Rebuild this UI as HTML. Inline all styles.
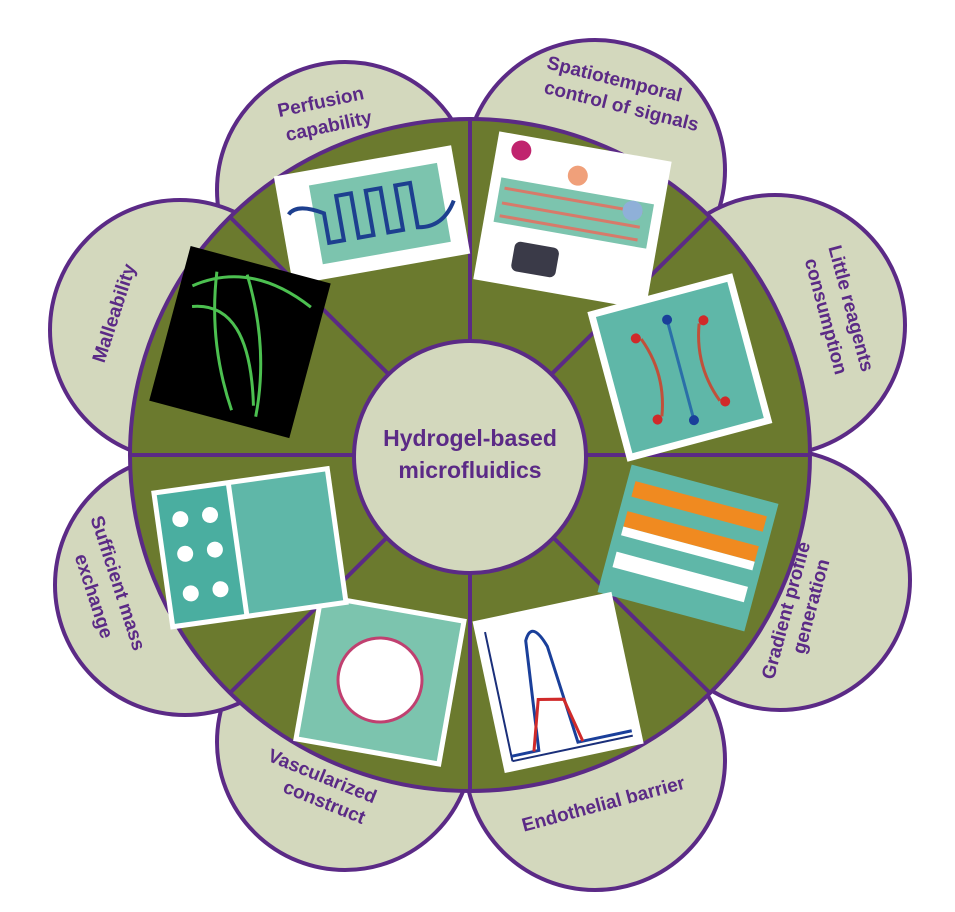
<!DOCTYPE html>
<html><head><meta charset="utf-8"><style>
html,body{margin:0;padding:0;background:#fff;}
svg{display:block;}
text{font-family:"Liberation Sans",sans-serif;font-weight:bold;fill:#5b2a86;font-size:19px;text-anchor:middle;}
</style></head><body>
<svg width="955" height="912" viewBox="0 0 955 912" xmlns="http://www.w3.org/2000/svg">
<g fill="#d3d8bd" stroke="#5b2a86" stroke-width="4">
<circle cx="345" cy="190" r="128"/>
<circle cx="595" cy="170" r="130"/>
<circle cx="775" cy="325" r="130"/>
<circle cx="780" cy="580" r="130"/>
<circle cx="595" cy="760" r="130"/>
<circle cx="345" cy="742" r="128"/>
<circle cx="185" cy="585" r="130"/>
<circle cx="180" cy="330" r="130"/>
</g>
<ellipse cx="470" cy="455" rx="340" ry="336" fill="#6b7a2e" stroke="#5b2a86" stroke-width="4"/>
<g stroke="#5b2a86" stroke-width="4">
<line x1="470" y1="119" x2="470" y2="791"/>
<line x1="130" y1="455" x2="810" y2="455"/>
<line x1="230" y1="217" x2="710" y2="693"/>
<line x1="710" y1="217" x2="230" y2="693"/>
</g>
<g transform="rotate(-10 372 215)">
<rect x="282" y="160" width="180" height="110" fill="#fff"/>
<rect x="315" y="175" width="130" height="80" fill="#7cc4ae"/>
<path d="M290 200 Q300 190 325 205 L325 235 L340 235 L340 190 L355 190 L355 235 L370 235 L370 190 L385 190 L385 235 L400 235 L400 190 L415 190 L415 235 Q440 240 455 215" fill="none" stroke="#1d3f8f" stroke-width="4"/>
</g>
<g transform="rotate(10 570 220)">
<rect x="485" y="145" width="175" height="150" fill="#fff"/>
<rect x="495" y="190" width="155" height="45" fill="#7cc4ae"/>
<path d="M500 200 L640 200 M500 215 L640 215 M500 228 L640 228" stroke="#d77a6a" stroke-width="3"/>
<circle cx="510" cy="160" r="10" fill="#c0246e"/><circle cx="570" cy="175" r="10" fill="#f0a07a"/><circle cx="630" cy="200" r="10" fill="#8fb0d8"/>
<rect x="520" y="250" width="45" height="30" rx="6" fill="#3a3a48"/>
</g>
<g transform="rotate(-15 680 368)">
<rect x="605" y="290" width="150" height="155" fill="#fff"/>
<rect x="612" y="297" width="136" height="141" fill="#5fb7a8"/>
<path d="M650 330 Q665 370 650 410 M710 330 Q695 370 710 410" stroke="#c0503a" stroke-width="3" fill="none"/>
<line x1="680" y1="320" x2="680" y2="420" stroke="#2a6fa8" stroke-width="3"/>
<circle cx="645" cy="328" r="5" fill="#d02a2a"/><circle cx="715" cy="328" r="5" fill="#d02a2a"/><circle cx="645" cy="412" r="5" fill="#d02a2a"/><circle cx="715" cy="412" r="5" fill="#d02a2a"/>
<circle cx="680" cy="318" r="5" fill="#1a3f9a"/><circle cx="680" cy="422" r="5" fill="#1a3f9a"/>
</g>
<g transform="rotate(15 688 548)">
<rect x="612" y="482" width="152" height="132" fill="#5fb7a8"/>
<rect x="620" y="497" width="136" height="16" fill="#f08a20"/>
<rect x="620" y="528" width="136" height="16" fill="#f08a20"/>
<rect x="620" y="544" width="136" height="9" fill="#fff"/>
<rect x="620" y="570" width="136" height="16" fill="#fff"/>
</g>
<g transform="rotate(-12 558 682)">
<rect x="487" y="605" width="142" height="155" fill="#fff"/>
<path d="M497 750 L620 750 M497 750 L497 618" stroke="#1a2f7a" stroke-width="2"/>
<path d="M497 745 L525 745 L535 635 Q545 615 555 645 L565 745 L620 745" fill="none" stroke="#1a3f9a" stroke-width="3"/>
<path d="M520 745 L535 695 L560 700 L570 745" fill="none" stroke="#d02a2a" stroke-width="3"/>
</g>
<g transform="rotate(10 380 680)">
<rect x="305" y="605" width="150" height="150" fill="#fff"/>
<rect x="310" y="610" width="140" height="140" fill="#7cc4ae"/>
<circle cx="380" cy="680" r="42" fill="#fff" stroke="#c04070" stroke-width="3"/>
</g>
<g transform="rotate(-8 248 548)">
<rect x="160" y="478" width="180" height="140" fill="#fff"/>
<rect x="165" y="483" width="70" height="130" fill="#4aaea0"/>
<rect x="240" y="483" width="95" height="130" fill="#5fb7a8"/>
<circle cx="185" cy="510" r="8" fill="#fff"/><circle cx="215" cy="510" r="8" fill="#fff"/>
<circle cx="185" cy="545" r="8" fill="#fff"/><circle cx="215" cy="545" r="8" fill="#fff"/>
<circle cx="185" cy="585" r="8" fill="#fff"/><circle cx="215" cy="585" r="8" fill="#fff"/>
</g>
<g transform="rotate(15 240 340)">
<rect x="168" y="262" width="145" height="160" fill="#000"/>
<path d="M180 300 Q230 260 300 290 M185 320 Q240 300 270 400 M200 280 Q210 350 250 410 M230 275 Q270 340 275 410" stroke="#4cc050" stroke-width="3" fill="none"/>
</g>
<circle cx="470" cy="457" r="116" fill="#d3d8bd" stroke="#5b2a86" stroke-width="4"/>
<text x="470" y="446" style="font-size:23px">Hydrogel-based</text>
<text x="470" y="478" style="font-size:23px">microfluidics</text>
<text transform="translate(322,108) rotate(-12)">Perfusion</text>
<text transform="translate(330,132) rotate(-12)">capability</text>
<text transform="translate(613,85) rotate(14)">Spatiotemporal</text>
<text transform="translate(620,112) rotate(14)">control of signals</text>
<text transform="translate(845,310) rotate(75)">Little reagents</text>
<text transform="translate(820,318) rotate(75)">consumption</text>
<text transform="translate(792,612) rotate(-75)">Gradient profile</text>
<text transform="translate(817,608) rotate(-75)">generation</text>
<text transform="translate(605,810) rotate(-15)">Endothelial barrier</text>
<text transform="translate(320,782) rotate(22)">Vascularized</text>
<text transform="translate(322,808) rotate(22)">construct</text>
<text transform="translate(112,585) rotate(72)">Sufficient mass</text>
<text transform="translate(88,598) rotate(72)">exchange</text>
<text transform="translate(120,315) rotate(-72)">Malleability</text>
</svg>
</body></html>
